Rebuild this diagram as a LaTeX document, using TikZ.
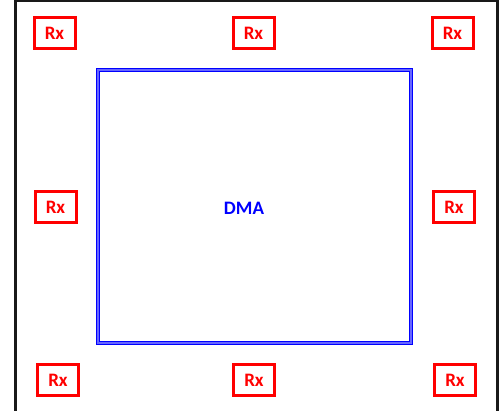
\documentclass[tikz,border=0pt]{standalone}
\usepackage{fontspec}
\setmainfont{Carlito}
\begin{document}
\begin{tikzpicture}[x=1pt,y=-1pt,
  rx/.style={draw=red, line width=3pt, minimum width=41pt, minimum height=31pt, inner sep=0pt, text=red, font=\bfseries\fontsize{19}{19}\selectfont},
  dma/.style={draw=blue, double=blue!60, double distance=1.3pt, line width=1.1pt, minimum width=313pt, minimum height=273pt, inner sep=0pt}]
\useasboundingbox (0,0) rectangle (501,411);
\coordinate (bl) at (15,425);
\coordinate (tl) at (15,1);
\coordinate (tr) at (497,1);
\coordinate (br) at (497,425);
\draw[line width=3pt, black!90] (bl) -- (tl) -- (tr) -- (br);
\node[dma] (dma) at (254.5,206.5) {};
\node[text=blue, font=\bfseries\fontsize{19}{19}\selectfont] (dmal) at (244,208) {DMA};
\node[rx] (r1) at (54.5,33) {Rx};
\node[rx] (r2) at (253.5,33) {Rx};
\node[rx] (r3) at (452.5,33) {Rx};
\node[rx] (r4) at (55.5,207.5) {Rx};
\node[rx] (r5) at (454,207.5) {Rx};
\node[rx] (r6) at (58,380.5) {Rx};
\node[rx] (r7) at (254,380.5) {Rx};
\node[rx] (r8) at (455,380.5) {Rx};
\end{tikzpicture}
\end{document}
